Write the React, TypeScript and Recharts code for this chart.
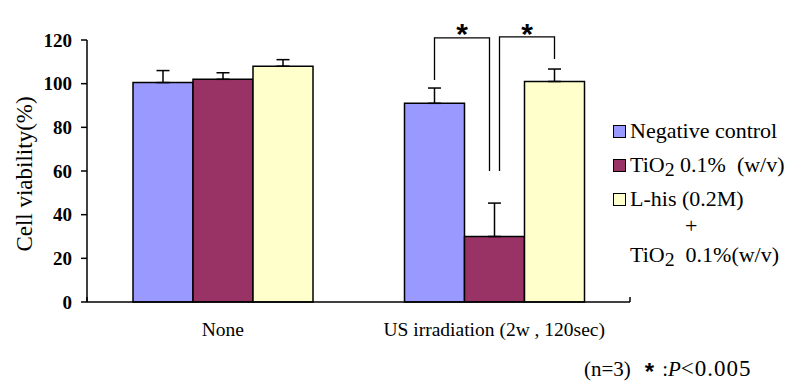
import React from "react";
import {
  BarChart,
  Bar,
  XAxis,
  YAxis,
  ErrorBar,
  ReferenceLine,
  Rectangle,
} from "recharts";

const categories = ["None", "US irradiation (2w , 120sec)"];
const negControl = [100.5, 91];
const negControlErr = [5.5, 7];
const tio2 = [102, 30];
const tio2Err = [3, 15.3];
const lhis = [108, 101];
const lhisErr = [3, 5.7];
const yTicks = [0, 20, 40, 60, 80, 100, 120];

const seriesColors = ["#9999FF", "#993366", "#FFFFCC"];

// significance brackets over the US group: [start, top, end]
const bracketLeft = [101.7, 121, 60];
const bracketRight = [60, 121.4, 111.3];
const starLevel = 126;

const data = categories.map((name, i) => ({
  name,
  neg: negControl[i],
  negErr: [0, negControlErr[i]],
  tio2: tio2[i],
  tio2Err: [0, tio2Err[i]],
  lhis: lhis[i],
  lhisErr: [0, lhisErr[i]],
}));

const serif = "'Liberation Serif', 'DejaVu Serif', serif";

const Star = ({ x, y }: { x: number; y: number }) => (
  <text
    x={x}
    y={y}
    textAnchor="middle"
    dominantBaseline="central"
    fontFamily="Liberation Sans"
    fontWeight="bold"
    fontSize={30}
    fill="#000"
    stroke="none"
    dy={7}
  >
    *
  </text>
);

const TioShape = (props: any) => {
  const { x, y, width, height, payload, index, fill } = props;
  const k = height / payload.tio2;
  const base = y + height;
  const yOf = (v: number) => base - v * k;
  const blueX = x - width / 2;
  const yellowX = x + width * 1.5;
  const lx = x + width / 2 - 5;
  const rx = x + width / 2 + 5;
  return (
    <g>
      <Rectangle x={x} y={y} width={width} height={height} fill={fill} stroke="#000" strokeWidth={1.5} />
      {index === 1 && (
        <g stroke="#000" strokeWidth={1.3} fill="none">
          <polyline
            points={`${blueX},${yOf(bracketLeft[0])} ${blueX},${yOf(bracketLeft[1])} ${lx},${yOf(bracketLeft[1])} ${lx},${yOf(bracketLeft[2])}`}
          />
          <polyline
            points={`${rx},${yOf(bracketRight[0])} ${rx},${yOf(bracketRight[1])} ${yellowX},${yOf(bracketRight[1])} ${yellowX},${yOf(bracketRight[2])}`}
          />
          <Star x={(blueX + lx) / 2} y={yOf(starLevel)} />
          <Star x={(rx + yellowX) / 2} y={yOf(starLevel)} />
        </g>
      )}
    </g>
  );
};

const Sub2 = () => (
  <span style={{ fontSize: "0.9em", position: "relative", top: "0.2em" }}>2</span>
);

const legendNames: React.ReactNode[] = [
  "Negative control",
  <>TiO<Sub2 /> 0.1%&nbsp; (w/v)</>,
  "L-his (0.2M)",
];

const LegendBox = () => (
  <div
    style={{
      position: "absolute",
      left: 613,
      top: 114,
      fontFamily: serif,
      fontSize: 22,
      color: "#000",
      lineHeight: "22px",
      whiteSpace: "nowrap",
    }}
  >
    {legendNames.map((n, i) => (
      <div key={i} style={{ display: "flex", alignItems: "center", height: 34 }}>
        <span
          style={{
            display: "inline-block",
            width: 11,
            height: 11,
            background: seriesColors[i],
            border: "1px solid #000",
            marginRight: 4,
          }}
        />
        <span>{n}</span>
      </div>
    ))}
    <div style={{ paddingLeft: 72, height: 28, lineHeight: "20px" }}>+</div>
    <div style={{ paddingLeft: 17, height: 24 }}>
      TiO<Sub2 />&nbsp; 0.1%(w/v)
    </div>
  </div>
);

const App: React.FC = () => {
  return (
    <div style={{ position: "absolute", left: 0, top: 0, width: 790, height: 385, background: "#fff" }}>
      <BarChart
        width={790}
        height={385}
        data={data}
        barSize={60}
        barGap={0}
        margin={{ top: 40, right: 160, left: 0, bottom: 53 }}
      >
        <XAxis
          dataKey="name"
          tickLine={false}
          axisLine={{ stroke: "#000", strokeWidth: 1.5 }}
          tick={{ fontFamily: serif, fontSize: 19.5, fill: "#000" }}
          tickMargin={14}
          height={30}
        />
        <XAxis xAxisId="edge" type="number" domain={[0, 2]} hide />
        <YAxis
          domain={[0, 120]}
          ticks={yTicks}
          interval={0}
          width={87}
          tickSize={6}
          tickMargin={9}
          axisLine={{ stroke: "#000", strokeWidth: 1.5 }}
          tickLine={{ stroke: "#000", strokeWidth: 1.5 }}
          tick={{ fontFamily: serif, fontSize: 19, fontWeight: "bold", fill: "#000" }}
          label={{
            value: "Cell viability(%)",
            content: (p: any) => {
              const vb = p.viewBox;
              const cx = vb.x + 24;
              const cy = vb.y + vb.height / 2 + 3;
              return (
                <text
                  x={cx}
                  y={cy}
                  transform={`rotate(-90 ${cx} ${cy})`}
                  textAnchor="middle"
                  dominantBaseline="central"
                  fontFamily={serif}
                  fontSize={23}
                  fill="#000"
                >
                  Cell viability(%)
                </text>
              );
            },
          }}
        />
        {[0, 1, 2].map((v) => (
          <ReferenceLine
            key={v}
            xAxisId="edge"
            segment={[
              { x: v, y: 0 },
              { x: v, y: 2.3 },
            ]}
            stroke="#000"
            strokeWidth={1.5}
          />
        ))}
        <Bar dataKey="neg" fill={seriesColors[0]} stroke="#000" strokeWidth={1.5} isAnimationActive={false}>
          <ErrorBar dataKey="negErr" width={6.5} stroke="#000" strokeWidth={1.5} direction="y" />
        </Bar>
        <Bar dataKey="tio2" fill={seriesColors[1]} shape={<TioShape />} isAnimationActive={false}>
          <ErrorBar dataKey="tio2Err" width={6.5} stroke="#000" strokeWidth={1.5} direction="y" />
        </Bar>
        <Bar dataKey="lhis" fill={seriesColors[2]} stroke="#000" strokeWidth={1.5} isAnimationActive={false}>
          <ErrorBar dataKey="lhisErr" width={6.5} stroke="#000" strokeWidth={1.5} direction="y" />
        </Bar>
      </BarChart>
      <LegendBox />
      <div
        style={{
          position: "absolute",
          left: 584,
          top: 357,
          fontFamily: serif,
          fontSize: 21,
          lineHeight: "24px",
          color: "#000",
          whiteSpace: "nowrap",
        }}
      >
        <span>(n=3)</span>
        <span
          style={{
            display: "inline-block",
            marginLeft: 14,
            fontFamily: "Liberation Sans",
            fontWeight: "bold",
            fontSize: 24,
            lineHeight: "16px",
            verticalAlign: "-4px",
          }}
        >
          *
        </span>
        <span style={{ marginLeft: 8 }}>
          :<i>P</i>
        </span>
        <span style={{ fontSize: 23, letterSpacing: 1 }}>&lt;0.005</span>
      </div>
    </div>
  );
};

export default App;
